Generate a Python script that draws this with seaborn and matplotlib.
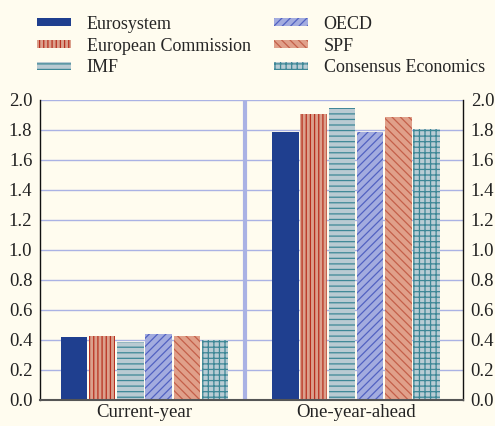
import pandas as pd
import seaborn as sns
import matplotlib.pyplot as plt
from matplotlib.patches import Patch

# data
horizons = ["Current-year", "One-year-ahead"]
sources = ["Eurosystem", "European Commission", "IMF", "OECD", "SPF", "Consensus Economics"]
current_year = [0.42, 0.43, 0.39, 0.44, 0.43, 0.40]
year_ahead = [1.79, 1.91, 1.95, 1.79, 1.89, 1.81]

# styles per source: face, hatch colour, hatch
faces = ["#1f3f8f", "#dba08c", "#b9cad2", "#a3acdf", "#e0a08a", "#b9ccd4"]
hatch_cols = ["#1f3f8f", "#b8301f", "#3d8796", "#5262c2", "#c4604a", "#3d8796"]
hatches = ["", "||||", "---", "////", "\\\\\\\\", "+++"]

df = pd.DataFrame({
    "horizon": [h for h in horizons for _ in sources],
    "source": sources * 2,
    "value": current_year + year_ahead,
})

bg = "#fffcef"
sns.set_style("white")
plt.rcParams["font.family"] = ["Liberation Serif", "DejaVu Serif"]
plt.rcParams["hatch.linewidth"] = 0.9

fig = plt.figure(figsize=(4.95, 4.26), dpi=100, facecolor=bg)
ax = fig.add_axes([40 / 495, 26 / 426, 423 / 495, 300 / 426], facecolor=bg)

sns.barplot(data=df, x="horizon", y="value", hue="source", hue_order=sources,
            palette=faces, width=0.8, gap=0.06, saturation=1, legend=False, ax=ax)

for i, cont in enumerate(ax.containers):
    for bar in cont:
        bar.set_hatch(hatches[i])
        bar.set_edgecolor(hatch_cols[i])
        bar.set_linewidth(0)

ax.set_ylim(0, 2.0)
ax.set_xlim(-0.494, 1.506)
ax.set_yticks([i / 5 for i in range(11)])
ax.set_yticklabels([f"{i / 5:.1f}" for i in range(11)])
ax.yaxis.grid(True, color="#aab2e4", lw=1)
ax.set_axisbelow(True)
ax.axvline(0.475, color="#aab2e4", lw=3, zorder=0)
ax.tick_params(axis="y", length=0, labelsize=13.5, colors="#222222",
               labelleft=True, labelright=True, pad=5.5)
ax.tick_params(axis="x", length=0, labelsize=13.5, colors="#222222", pad=3)
ax.set_xticks([-0.494, 0.475, 1.506], minor=True)
ax.tick_params(axis="x", which="minor", length=5, width=1.5, color="black", direction="out")
ax.set_xlabel("")
ax.set_ylabel("")
for s in ["left", "right"]:
    ax.spines[s].set_color("#111111")
    ax.spines[s].set_linewidth(1)
ax.spines["bottom"].set_color("#555555")
ax.spines["bottom"].set_linewidth(1.5)
ax.spines["top"].set_visible(False)

handles = [Patch(facecolor=faces[i], edgecolor=hatch_cols[i], hatch=hatches[i], lw=0)
           for i in range(len(sources))]
fig.legend(handles, sources, loc="upper left", bbox_to_anchor=(0.06, 0.98), ncol=2,
           frameon=False, fontsize=13, handlelength=1.9, handleheight=0.3,
           labelspacing=0.27, columnspacing=1.3, handletextpad=0.85, borderaxespad=0)

fig.savefig("out.png", dpi=100, facecolor=bg)
